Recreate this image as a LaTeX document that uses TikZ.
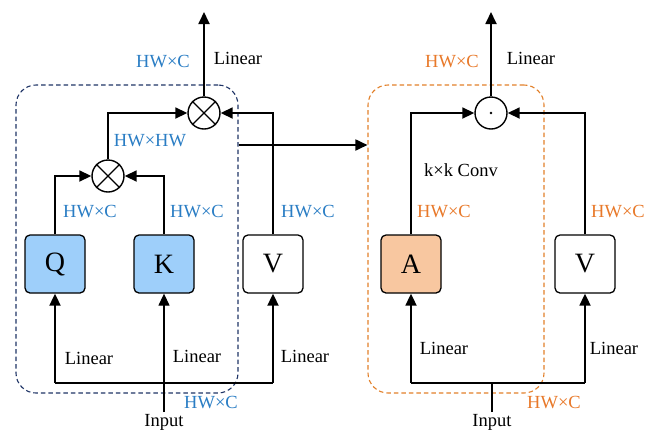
\documentclass[tikz,border=0pt]{standalone}
\usepackage{fontspec}
\setmainfont{Liberation Serif}
\usetikzlibrary{arrows.meta}
\definecolor{tblue}{HTML}{2A7DC4}
\definecolor{torange}{HTML}{E8792A}
\definecolor{qblue}{HTML}{9ECFFA}
\definecolor{aorange}{HTML}{F8C7A0}
\definecolor{navy}{HTML}{1F3466}
\definecolor{dorange}{HTML}{E2802A}
\tikzset{
  arr/.style={line width=1.8pt,-{Triangle[length=12pt,width=11pt]}},
  ln/.style={line width=1.8pt},
  circ/.style={circle,draw,line width=1.4pt,minimum size=32pt,inner sep=0pt},
  blk/.style={draw,line width=1.3pt,rounded corners=5pt,minimum width=60pt,minimum height=58pt,font=\fontsize{28}{32}\selectfont},
  lbl/.style={font=\fontsize{18.5}{21}\selectfont,inner sep=0pt},
  blbl/.style={lbl,text=tblue},
  olbl/.style={lbl,text=torange},
  gbox/.style={draw,dashed,dash pattern=on 4.5pt off 3pt,line width=1.1pt,rounded corners=20pt},
}
\begin{document}
\begin{tikzpicture}[x=1pt,y=-1pt]
\useasboundingbox (0,0) rectangle (645,432);
% ---------- left panel ----------
\node[gbox,draw=navy,minimum width=222pt,minimum height=308pt] (gL) at (127,239) {};
\node[circ] (m1) at (204,113) {};
\node[circ] (m2) at (108,176) {};
\draw[line width=1.4pt] (m1.north west) -- (m1.south east) (m1.north east) -- (m1.south west);
\draw[line width=1.4pt] (m2.north west) -- (m2.south east) (m2.north east) -- (m2.south west);
\node[blk,fill=qblue] (Q) at (55,264) {Q};
\node[blk,fill=qblue] (K) at (164,264) {K};
\node[blk,fill=white] (V) at (273,264) {V};
\coordinate (out1) at (204,12);
\coordinate (bl) at (55,383);
\coordinate (br) at (273,383);
\coordinate (in1) at (164,412);
\draw[arr] (m1.north) -- (out1);
\draw[arr] (m2.north) |- (m1.west);
\draw[arr] (Q.north) |- (m2.west);
\draw[arr] (K.north) |- (m2.east);
\draw[arr] (V.north) |- (m1.east);
\draw[ln] (bl) -- (br);
\draw[arr] (bl) -- (Q.south);
\draw[arr] (br) -- (V.south);
\draw[arr,line width=1.3pt] (in1) -- (K.south);
\node[lbl] (l1) at (238,58) {Linear};
\node[blbl] (h1) at (163,62) {HW×C};
\node[blbl] (h2) at (150,141) {HW×HW};
\node[blbl] (h3) at (90,212) {HW×C};
\node[blbl] (h4) at (197,212) {HW×C};
\node[blbl] (h5) at (308,212) {HW×C};
\node[lbl] (l2) at (89,358) {Linear};
\node[lbl] (l3) at (197,356) {Linear};
\node[lbl] (l4) at (305,356) {Linear};
\node[blbl] (h6) at (211,403) {HW×C};
\node[lbl] (inp1) at (164,422) {Input};
% ---------- right panel ----------
\node[gbox,draw=dorange,minimum width=176pt,minimum height=308pt] (gR) at (456,239) {};
\coordinate (mid) at (0,145);
\draw[arr] (gL.east |- mid) -- (gR.west |- mid);
\node[circ] (m3) at (491,113) {};
\fill (m3.center) circle (1.4pt);
\node[blk,fill=aorange] (A) at (411,264) {A};
\node[blk,fill=white] (V2) at (585,264) {V};
\coordinate (out2) at (491,12);
\coordinate (bl2) at (411,383);
\coordinate (br2) at (585,383);
\coordinate (jn2) at (492,383);
\coordinate (in2) at (492,412);
\draw[arr] (m3.north) -- (out2);
\draw[arr] (A.north) |- (m3.west);
\draw[arr] (V2.north) |- (m3.east);
\draw[ln] (bl2) -- (br2);
\draw[arr] (bl2) -- (A.south);
\draw[arr] (br2) -- (V2.south);
\draw[ln] (in2) -- (jn2);
\node[lbl] (l5) at (531,58) {Linear};
\node[olbl] (o1) at (452,62) {HW×C};
\node[lbl] (conv) at (461,170) {k×k Conv};
\node[olbl] (o2) at (444,212) {HW×C};
\node[olbl] (o3) at (618,212) {HW×C};
\node[lbl] (l6) at (444,348) {Linear};
\node[lbl] (l7) at (614,348) {Linear};
\node[olbl] (o4) at (554,403) {HW×C};
\node[lbl] (inp2) at (492,422) {Input};
\end{tikzpicture}
\end{document}
